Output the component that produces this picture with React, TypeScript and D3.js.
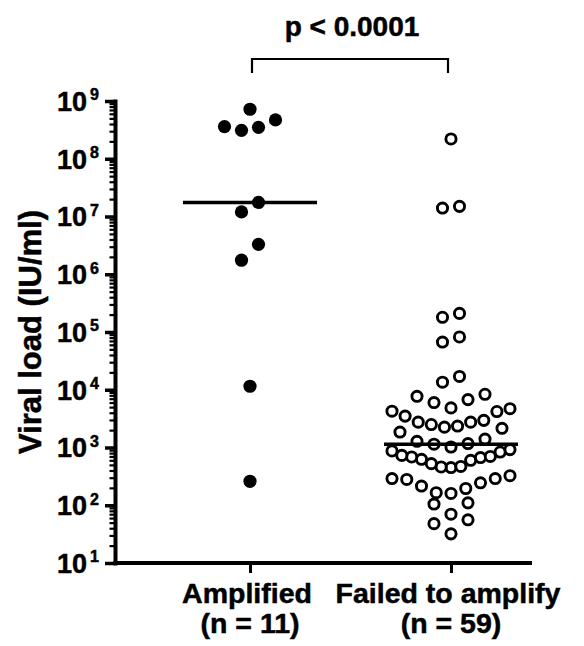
import React, { useEffect, useRef } from 'react';
import * as d3 from 'd3';

// valores (UI/ml)
const categories = ["Amplified", "Failed to amplify"];
const amplified = [7.2e8, 4.7e8, 3.6e8, 3.5e8, 3.1e8, 1.75e7, 1.2e7, 3.3e6, 1.75e6, 1.15e4, 260];
const failed = [
  2.2e8, 1.5e7, 1.4e7, 2.1e5, 1.8e5, 8.2e4, 6.7e4, 1.7e4, 1.35e4,
  8350, 7700, 6750, 6000, 4850, 4700, 4250, 4200,
  3500, 2950, 2750, 2750, 2500, 2350, 2250, 2150, 1850,
  1400, 1280, 1170, 1140, 1020,
  920, 870, 835, 730, 700, 685, 670, 625, 600, 525, 470, 460, 450,
  325, 290, 290, 280, 245, 215, 195, 165, 160,
  110, 105, 70, 56, 48, 32,
];
const yTicks = [1e1, 1e2, 1e3, 1e4, 1e5, 1e6, 1e7, 1e8, 1e9];
const pLabel = "p < 0.0001";
const yLabel = "Viral load (IU/ml)";

const FONT = "'Liberation Sans', Arial, Helvetica, sans-serif";

// acomoda los puntos en filas como hace Prism
function swarm(values: number[], y: (v: number) => number, rowH: number, step0: number, maxW: number) {
  const pts = values.map((v) => ({ v, y: y(v), dx: 0 })).sort((a, b) => a.v - b.v);
  const rows: any[][] = [];
  let cur: any[] = [];
  let start = 0;
  pts.forEach((p) => {
    if (cur.length && start - p.y <= rowH) {
      cur.push(p);
    } else {
      if (cur.length) rows.push(cur);
      cur = [p];
      start = p.y;
    }
  });
  if (cur.length) rows.push(cur);
  rows.forEach((row) => {
    const n = row.length;
    const step = n > 1 ? Math.min(step0, maxW / (n - 1)) : 0;
    row.forEach((p, i) => {
      if (n % 2 === 1) {
        const k = Math.ceil(i / 2);
        p.dx = i === 0 ? 0 : (i % 2 === 1 ? -k : k) * step;
      } else {
        const k = Math.floor(i / 2) + 0.5;
        p.dx = (i % 2 === 0 ? -k : k) * step;
      }
    });
  });
  return pts;
}

export default function App() {
  const ref = useRef<HTMLDivElement>(null);

  useEffect(() => {
    const width = 584, height = 646;
    const root = d3.select(ref.current);
    root.selectAll("*").remove();

    const svg = root.append("svg")
      .attr("width", width).attr("height", height)
      .style("position", "absolute").style("left", "0px").style("top", "0px")
      .style("background", "#fff");

    const y = d3.scaleLog().domain([1e1, 1e9]).range([563, 101]);
    const x = d3.scalePoint<string>().domain(categories).range([250, 451]);
    const axisX0 = 115, axisX1 = 530;

    // eje y: menores y mayores
    const minor = y.ticks().filter((v) => !yTicks.includes(v));
    svg.append("g").attr("transform", `translate(${axisX0},0)`)
      .call(d3.axisLeft(y).tickValues(minor).tickSize(5.5).tickSizeOuter(0).tickFormat(() => ""))
      .call((g) => g.select(".domain").remove())
      .call((g) => g.selectAll("line").attr("stroke", "#000").attr("stroke-width", 2.2));
    svg.append("g").attr("transform", `translate(${axisX0},0)`)
      .call(d3.axisLeft(y).tickValues(yTicks).tickSize(10).tickSizeOuter(0).tickFormat(() => ""))
      .call((g) => g.select(".domain").attr("stroke", "#000").attr("stroke-width", 4).attr("stroke-linecap", "square"))
      .call((g) => g.selectAll("line").attr("stroke", "#000").attr("stroke-width", 3.5));

    const lab = svg.append("g").attr("font-family", FONT).attr("font-weight", "bold")
      .attr("fill", "#000").attr("stroke", "#000").attr("stroke-width", 0.5);
    yTicks.forEach((v) => {
      const t = lab.append("text").attr("x", 99).attr("y", y(v) + 9.8).attr("text-anchor", "end");
      t.append("tspan").attr("font-size", 27).text("10");
      t.append("tspan").attr("font-size", 16).attr("dx", 3).attr("dy", -10.5).text(String(Math.round(Math.log10(v))));
    });

    // eje x
    svg.append("g").attr("transform", `translate(0,${y.range()[0]})`)
      .call(d3.axisBottom(x).tickSize(10).tickSizeOuter(0).tickFormat(() => ""))
      .call((g) => g.select(".domain").attr("d", `M${axisX0},0H${axisX1}`).attr("stroke", "#000").attr("stroke-width", 4).attr("stroke-linecap", "square"))
      .call((g) => g.selectAll("line").attr("stroke", "#000").attr("stroke-width", 3));

    const groups = [amplified, failed];
    categories.forEach((c, i) => {
      const t = lab.append("text").attr("text-anchor", "middle").attr("font-size", 28.5);
      t.append("tspan").attr("x", x(c)! - 3).attr("y", 603).text(c);
      t.append("tspan").attr("x", x(c)!).attr("y", 633).text(`(n = ${groups[i].length})`);
    });

    lab.append("text")
      .attr("transform", `translate(41,${(y.range()[0] + y.range()[1]) / 2}) rotate(-90)`)
      .attr("text-anchor", "middle").attr("font-size", 31).text(yLabel);

    // puntos
    const pts1 = swarm(amplified, y, 19, 17, 118);
    svg.append("g").selectAll("circle").data(pts1).enter().append("circle")
      .attr("cx", (d) => x(categories[0])! + d.dx).attr("cy", (d) => d.y)
      .attr("r", 6.6).attr("fill", "#000");

    const pts2 = swarm(failed, y, 19, 17, 118);
    svg.append("g").selectAll("circle").data(pts2).enter().append("circle")
      .attr("cx", (d) => x(categories[1])! + d.dx).attr("cy", (d) => d.y)
      .attr("r", 5.1).attr("fill", "#fff").attr("stroke", "#000").attr("stroke-width", 2.9);

    // medianas
    groups.forEach((g, i) => {
      const cx = x(categories[i])!;
      svg.append("line")
        .attr("x1", cx - 67).attr("x2", cx + 67)
        .attr("y1", y(d3.median(g)!)).attr("y2", y(d3.median(g)!))
        .attr("stroke", "#000").attr("stroke-width", 3.4);
    });

    // corchete con p
    const bx0 = x(categories[0])! + 2, bx1 = x(categories[1])! - 3;
    svg.append("path")
      .attr("d", `M${bx0},73V59H${bx1}V73`)
      .attr("fill", "none").attr("stroke", "#000").attr("stroke-width", 2.2);
    lab.append("text").attr("x", (bx0 + bx1) / 2 + 2).attr("y", 36)
      .attr("text-anchor", "middle").attr("font-size", 28).text(pLabel);
  }, []);

  return <div ref={ref}></div>;
}
